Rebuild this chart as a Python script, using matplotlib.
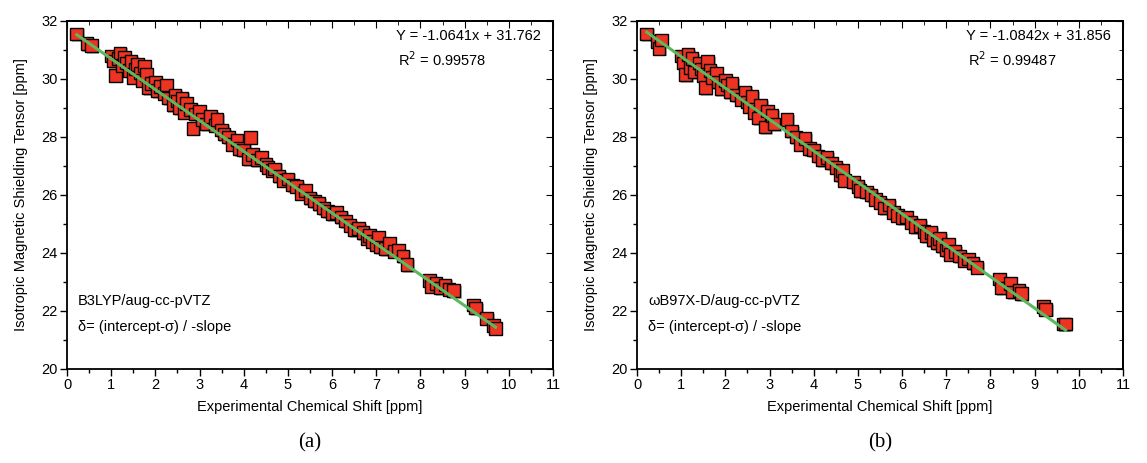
import numpy as np
import matplotlib
matplotlib.use("Agg")
import matplotlib.pyplot as plt
from matplotlib.ticker import MultipleLocator
import matplotlib.patheffects as pe

plt.rcParams['font.family'] = ['Liberation Sans', 'DejaVu Sans']

# ---------------- data ----------------
x_a = [0.22, 0.45, 0.55, 1.00, 1.05, 1.10, 1.15, 1.20, 1.25, 1.30, 1.35, 1.40, 1.45, 1.50,
       1.55, 1.60, 1.65, 1.70, 1.75, 1.80, 1.85, 1.90, 2.00, 2.05, 2.10, 2.20, 2.25, 2.30,
       2.40, 2.45, 2.50, 2.55, 2.60, 2.65, 2.70, 2.80, 2.85, 2.90, 3.00, 3.05, 3.15, 3.25,
       3.35, 3.40, 3.50, 3.55, 3.65, 3.75, 3.85, 3.90, 4.00, 4.10, 4.15, 4.20, 4.30, 4.40,
       4.50, 4.55, 4.65, 4.70, 4.80, 4.90, 5.00, 5.10, 5.20, 5.30, 5.40, 5.50, 5.60, 5.70,
       5.80, 5.90, 6.00, 6.10, 6.20, 6.30, 6.40, 6.50, 6.60, 6.70, 6.80, 6.85, 6.90, 7.00,
       7.05, 7.10, 7.20, 7.30, 7.40, 7.50, 7.60, 7.70, 8.20, 8.25, 8.35, 8.45, 8.55, 8.65,
       8.75, 9.20, 9.25, 9.50, 9.65, 9.70]
y_a = [31.55, 31.22, 31.15, 30.80, 30.62, 30.12, 30.70, 30.90, 30.45, 30.75, 30.55, 30.30, 30.60, 30.05,
       30.35, 30.50, 30.20, 29.95, 30.45, 30.15, 29.70, 29.85, 29.90, 29.60, 29.75, 29.50, 29.80, 29.35,
       29.10, 29.45, 29.25, 29.00, 29.35, 28.85, 29.15, 28.95, 28.30, 28.80, 28.90, 28.60, 28.45, 28.70,
       28.40, 28.60, 28.25, 28.10, 28.00, 27.75, 27.90, 27.60, 27.55, 27.25, 27.98, 27.40, 27.20, 27.30,
       27.05, 26.95, 26.85, 26.90, 26.65, 26.50, 26.55, 26.35, 26.30, 26.05, 26.15, 25.90, 25.80, 25.70,
       25.55, 25.45, 25.35, 25.40, 25.25, 25.10, 24.95, 24.80, 24.85, 24.70, 24.50, 24.60, 24.40, 24.30,
       24.55, 24.20, 24.15, 24.35, 24.05, 24.10, 23.90, 23.60, 23.05, 22.85, 22.95, 22.80, 22.90, 22.75,
       22.70, 22.20, 22.10, 21.75, 21.50, 21.40]

x_b = [0.22, 0.45, 0.50, 0.55, 1.00, 1.05, 1.10, 1.15, 1.20, 1.25, 1.30, 1.40, 1.45, 1.50,
       1.55, 1.60, 1.65, 1.70, 1.80, 1.85, 1.90, 2.00, 2.05, 2.10, 2.15, 2.25, 2.35, 2.45,
       2.50, 2.55, 2.60, 2.65, 2.75, 2.80, 2.90, 2.95, 3.05, 3.10, 3.40, 3.50, 3.60, 3.70,
       3.80, 3.90, 4.00, 4.10, 4.20, 4.30, 4.40, 4.50, 4.60, 4.65, 4.70, 4.90, 5.00, 5.05,
       5.20, 5.30, 5.40, 5.50, 5.60, 5.70, 5.80, 5.90, 6.00, 6.10, 6.20, 6.30, 6.40, 6.50,
       6.55, 6.65, 6.70, 6.80, 6.85, 6.90, 7.00, 7.05, 7.10, 7.20, 7.30, 7.40, 7.50, 7.60,
       7.70, 8.20, 8.25, 8.45, 8.50, 8.65, 8.70, 9.20, 9.25, 9.65, 9.70]
y_b = [31.55, 31.30, 31.05, 31.35, 30.80, 30.55, 30.15, 30.85, 30.40, 30.70, 30.25, 30.55, 30.35, 30.10,
       29.70, 30.60, 30.30, 30.05, 30.20, 29.90, 29.65, 29.95, 29.80, 29.55, 29.85, 29.45, 29.30, 29.55,
       29.20, 29.05, 29.40, 28.85, 28.65, 29.10, 28.35, 28.90, 28.75, 28.45, 28.60, 28.20, 28.00, 27.75,
       27.95, 27.60, 27.55, 27.35, 27.20, 27.30, 27.10, 26.95, 26.70, 26.85, 26.50, 26.45, 26.30, 26.15,
       26.10, 26.00, 25.85, 25.75, 25.55, 25.65, 25.40, 25.30, 25.20, 25.25, 25.05, 24.90, 24.95, 24.75,
       24.60, 24.70, 24.45, 24.35, 24.50, 24.25, 24.10, 24.30, 23.95, 24.05, 23.90, 23.75, 23.80, 23.65,
       23.50, 23.10, 22.80, 22.95, 22.65, 22.70, 22.60, 22.15, 22.05, 21.55, 21.55]

slope_a, intercept_a, r2_a = -1.0641, 31.762, 0.99578
slope_b, intercept_b, r2_b = -1.0842, 31.856, 0.99487

method_a = "B3LYP/aug-cc-pVTZ"
method_b = "ωB97X-D/aug-cc-pVTZ"
panel_labels = ["(a)", "(b)"]

xlabel = "Experimental Chemical Shift [ppm]"
ylabel = "Isotropic Magnetic Shielding Tensor [ppm]"

# ---------------- figure ----------------
fig = plt.figure(figsize=(11.47, 4.63), dpi=100)
W, H = 1147, 463
ax_a = fig.add_axes([67 / W, 1 - 369 / H, 486 / W, 348 / H])
ax_b = fig.add_axes([637 / W, 1 - 369 / H, 486 / W, 348 / H])

RED = '#EE3322'
GREEN = '#5CB85C'

for ax, xs, ys, m, b, r2, meth, lab in [
        (ax_a, x_a, y_a, slope_a, intercept_a, r2_a, method_a, panel_labels[0]),
        (ax_b, x_b, y_b, slope_b, intercept_b, r2_b, method_b, panel_labels[1])]:
    xs = np.array(xs)
    ys = np.array(ys)
    ax.plot(xs, ys, linestyle='none', marker='s', markersize=9,
            markerfacecolor=RED, markeredgecolor='black', markeredgewidth=1.0,
            path_effects=[pe.SimplePatchShadow(offset=(1.2, -1.2), shadow_rgbFace='#888888', alpha=0.6),
                          pe.Normal()], zorder=3)
    xl = np.array([xs.min(), xs.max()])
    ax.plot(xl, m * xl + b, color=GREEN, lw=2.2, zorder=4)

    ax.set_xlim(0, 11)
    ax.set_ylim(20, 32)
    ax.xaxis.set_major_locator(MultipleLocator(1))
    ax.xaxis.set_minor_locator(MultipleLocator(0.5))
    ax.yaxis.set_major_locator(MultipleLocator(2))
    ax.yaxis.set_minor_locator(MultipleLocator(1))
    ax.tick_params(which='both', direction='out', top=False, right=False, labelsize=10.5, width=1.0)
    ax.tick_params(which='major', length=5, pad=1.5)
    ax.tick_params(which='minor', length=3)
    # mirrored inward ticks on top/right
    secx = ax.secondary_xaxis('top')
    secx.xaxis.set_major_locator(MultipleLocator(1))
    secx.xaxis.set_minor_locator(MultipleLocator(0.5))
    secx.tick_params(which='both', direction='in', labeltop=False)
    secx.tick_params(which='major', length=5)
    secx.tick_params(which='minor', length=3)
    secy = ax.secondary_yaxis('right')
    secy.yaxis.set_major_locator(MultipleLocator(2))
    secy.yaxis.set_minor_locator(MultipleLocator(1))
    secy.tick_params(which='both', direction='in', labelright=False)
    secy.tick_params(which='major', length=5)
    secy.tick_params(which='minor', length=3)
    for s in ax.spines.values():
        s.set_linewidth(1.3)
    for s in list(secx.spines.values()) + list(secy.spines.values()):
        s.set_linewidth(1.3)

    ax.set_xlabel(xlabel, fontsize=10.5, labelpad=6)
    ax.set_ylabel(ylabel, fontsize=10.5, labelpad=10)

    ax.text(0.676, 0.958, f"Y = {m:.4f}x + {b:.3f}", transform=ax.transAxes,
            fontsize=10.5, ha='left', va='center')
    ax.text(0.682, 0.888, f"R$^2$ = {r2:.5f}", transform=ax.transAxes,
            fontsize=10.5, ha='left', va='center')
    ax.text(0.023, 0.195, meth, transform=ax.transAxes, fontsize=10.5, ha='left', va='center')
    ax.text(0.023, 0.12, "δ= (intercept-σ) / -slope", transform=ax.transAxes,
            fontsize=10.5, ha='left', va='center')
    ax.text(0.5, -0.185, lab, transform=ax.transAxes, fontsize=15,
            family=['Liberation Serif', 'DejaVu Serif'], ha='center', va='top')

fig.savefig("out.png", dpi=100)
